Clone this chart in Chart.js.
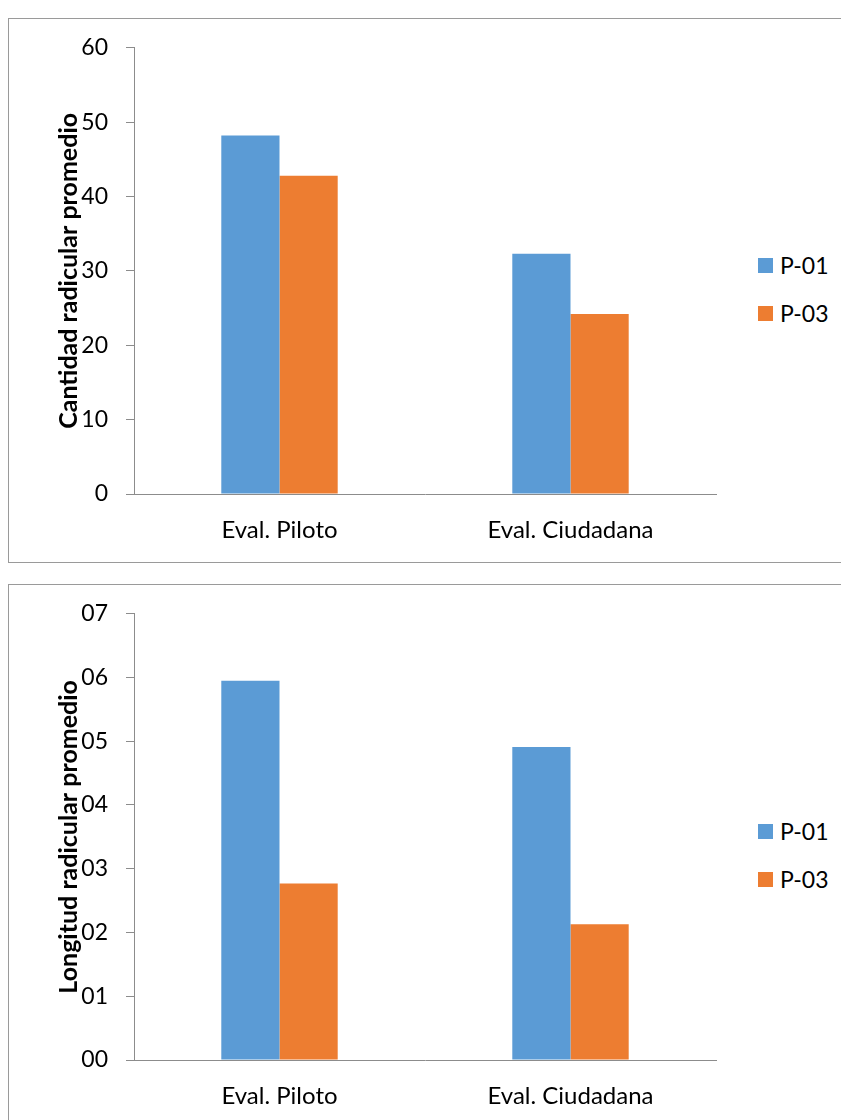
<!DOCTYPE html>
<html lang="es">
<head>
<meta charset="utf-8">
<title>Cantidad y longitud radicular</title>
<script src="https://cdn.jsdelivr.net/npm/chart.js@4.4.1/dist/chart.umd.min.js"></script>
<style>
  html, body { margin: 0; padding: 0; background: #fff; }
  body { width: 841px; height: 1120px; overflow: hidden; position: relative; font-family: Lato, "Open Sans", sans-serif; }
  .panel { position: absolute; left: 8px; width: 900px; border: 1px solid #9a9a9a; background: #fff; }
  #panel-top { top: 18px; height: 543px; }
  #panel-bottom { top: 584px; height: 600px; }
  .panel canvas { position: absolute; left: 0; top: 0; }
  .legend { position: absolute; left: 749px; top: 222px; }
  .legend-item { display: flex; align-items: center; height: 48px; font-size: 23px; color: #000; }
  .legend-swatch { width: 15px; height: 15px; margin-right: 7px; }
</style>
</head>
<body>
  <div class="panel" id="panel-top">
    <canvas id="chart-cantidad" width="720" height="543"></canvas>
    <div class="legend" id="legend-cantidad"></div>
  </div>
  <div class="panel" id="panel-bottom">
    <canvas id="chart-longitud" width="720" height="543"></canvas>
    <div class="legend" id="legend-longitud"></div>
  </div>

<script>
// ---- data ----
const categories = ["Eval. Piloto", "Eval. Ciudadana"];
const seriesNames = ["P-01", "P-03"];
const seriesColors = ["#5b9bd5", "#ed7d31"];

const cantidadP01 = [48.2, 32.3];
const cantidadP03 = [42.8, 24.2];
const cantidadTicks = ["0", "10", "20", "30", "40", "50", "60"];

const longitudP01 = [5.95, 4.91];
const longitudP03 = [2.77, 2.13];
const longitudTicks = ["00", "01", "02", "03", "04", "05", "06", "07"];

const AXIS_GRAY = "#8c8c8c";
const FONT = "Lato";

function buildBarChart(canvasId, legendId, values, tickLabels, step, yTitle) {
  const datasets = values.map((data, i) => ({
    label: seriesNames[i],
    data,
    backgroundColor: seriesColors[i],
    borderWidth: 0,
    categoryPercentage: 0.4,
    barPercentage: 1.0,
  }));

  const chart = new Chart(document.getElementById(canvasId), {
    type: "bar",
    data: { labels: categories, datasets },
    options: {
      responsive: false,
      animation: false,
      devicePixelRatio: 1,
      layout: { padding: { top: 28.7, right: 13, bottom: 0, left: 0 } },
      plugins: { legend: { display: false }, tooltip: { enabled: false } },
      scales: {
        x: {
          grid: { display: false, drawTicks: false },
          border: { display: true, color: AXIS_GRAY, width: 1 },
          ticks: { color: "#000", padding: 22, font: { family: FONT, size: 24 } },
          afterFit: (scale) => { scale.height = 68; },
        },
        y: {
          min: 0,
          max: step * (tickLabels.length - 1),
          grid: { display: true, drawOnChartArea: false, drawTicks: true, tickLength: 8, color: AXIS_GRAY },
          border: { display: true, color: AXIS_GRAY, width: 1 },
          ticks: {
            stepSize: step,
            color: "#000",
            padding: 18,
            font: { family: FONT, size: 23 },
            callback: (value) => tickLabels[Math.round(value / step)],
          },
          title: {
            display: true,
            text: yTitle,
            color: "#000",
            font: { family: FONT, size: 25, weight: "bold" },
            padding: { top: 45, bottom: 0 },
          },
          // fixed axis width; top label space comes from layout padding instead
          afterFit: (scale) => {
            scale.width = 125;
            scale.paddingTop = 0;
            scale.paddingBottom = 0;
          },
        },
      },
    },
  });

  // legend as plain html next to the plot
  document.getElementById(legendId).innerHTML = chart.data.datasets
    .map((ds) => `<div class="legend-item"><span class="legend-swatch" style="background:${ds.backgroundColor}"></span>${ds.label}</div>`)
    .join("");

  return chart;
}

buildBarChart("chart-cantidad", "legend-cantidad", [cantidadP01, cantidadP03], cantidadTicks, 10, "Cantidad radicular promedio");
buildBarChart("chart-longitud", "legend-longitud", [longitudP01, longitudP03], longitudTicks, 1, "Longitud radicular promedio");
</script>
</body>
</html>
